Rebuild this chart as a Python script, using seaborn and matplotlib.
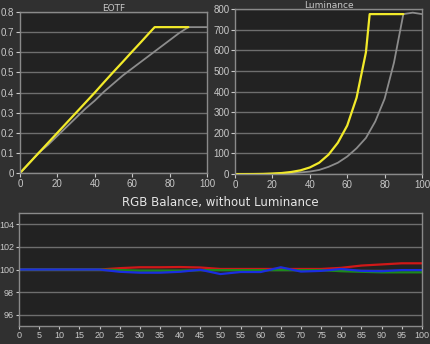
import matplotlib
matplotlib.use("Agg")
import matplotlib.pyplot as plt
import seaborn as sns
import pandas as pd

# ---- data ----
eotf_target_x = [0, 5, 10, 15, 20, 25, 30, 35, 40, 45, 50, 55, 60, 65, 70, 75, 80, 85, 90, 95, 100]
eotf_target_y = [0, 0.05, 0.1, 0.14, 0.185, 0.23, 0.275, 0.32, 0.36, 0.405, 0.445, 0.485, 0.52,
                 0.555, 0.59, 0.625, 0.66, 0.695, 0.725, 0.725, 0.725]
eotf_meas_x = [0, 5, 10, 15, 20, 25, 30, 35, 40, 45, 50, 55, 60, 65, 70, 72, 80, 90]
eotf_meas_y = [0, 0.05, 0.1, 0.15, 0.2, 0.25, 0.3, 0.35, 0.4, 0.452, 0.503, 0.553, 0.604,
               0.654, 0.705, 0.725, 0.725, 0.725]

lum_target_x = [0, 10, 20, 30, 40, 45, 50, 55, 60, 65, 70, 75, 80, 85, 90, 95, 100]
lum_target_y = [0, 0.2, 1, 4, 12, 20, 35, 55, 85, 125, 175, 255, 365, 540, 775, 782, 775]
lum_meas_x = [0, 5, 10, 15, 20, 25, 30, 35, 40, 45, 50, 55, 60, 65, 70, 72, 80, 90]
lum_meas_y = [0, 0.1, 0.3, 0.9, 2.6, 5, 10, 18, 32, 55, 94, 152, 235, 370, 590, 775, 775, 775]

rgb_x = [0, 5, 10, 15, 20, 25, 30, 35, 40, 45, 50, 55, 60, 65, 70, 75, 80, 85, 90, 95, 100]
red = [100, 100, 100, 100, 100, 100.12, 100.2, 100.2, 100.22, 100.18, 100.05, 100.05, 100.05,
       100.05, 100.05, 100.05, 100.15, 100.35, 100.45, 100.55, 100.55]
green = [100, 100, 100, 100, 100, 99.95, 99.9, 99.9, 99.9, 99.95, 99.95, 99.95, 99.95,
         99.95, 99.95, 99.95, 99.85, 99.8, 99.75, 99.75, 99.75]
blue = [100, 100, 100, 100, 100, 99.8, 99.72, 99.72, 99.8, 99.98, 99.6, 99.78, 99.78,
        100.2, 99.82, 99.88, 100.05, 99.88, 99.85, 99.95, 99.95]

# ---- style ----
FIG_BG = "#303030"
AX_BG = "#222222"
GRID = "#6e6e6e"
SPINE = "#8a8a8a"
TXT = "#c8c8c8"

sns.set_theme(style="dark")
plt.rcParams["font.family"] = ["Liberation Sans", "DejaVu Sans"]

fig = plt.figure(figsize=(4.3, 3.44), dpi=100, facecolor=FIG_BG)
ax1 = fig.add_axes([0.0465, 0.497, 0.435, 0.468])
ax2 = fig.add_axes([0.5465, 0.494, 0.435, 0.480])
ax3 = fig.add_axes([0.044, 0.052, 0.937, 0.329])


def style(ax, title, tsize=7, tcolor=TXT, pad=1, lsize=7, tlen=3):
    ax.set_facecolor(AX_BG)
    for s in ax.spines.values():
        s.set_color(SPINE)
        s.set_linewidth(1.0)
        s.set_visible(True)
    ax.yaxis.grid(True, color=GRID, linewidth=1.0)
    ax.xaxis.grid(False)
    ax.tick_params(axis="both", colors=TXT, labelsize=lsize, length=tlen, width=0.8,
                   direction="out", pad=1, bottom=True, left=True)
    ax.set_title(title, color=tcolor, fontsize=tsize, pad=pad,
                 family=["DejaVu Sans"])
    ax.set_xlabel("")
    ax.set_ylabel("")


YEL = "#f2ea2a"
GRY = "#8c8c8c"

sns.lineplot(x=eotf_target_x, y=eotf_target_y, ax=ax1, color=GRY, linewidth=1.3)
sns.lineplot(x=eotf_meas_x, y=eotf_meas_y, ax=ax1, color=YEL, linewidth=1.6)
ax1.set_xlim(0, 100)
ax1.set_ylim(0, 0.8)
ax1.set_xticks(range(0, 101, 20))
ax1.set_yticks([0, 0.1, 0.2, 0.3, 0.4, 0.5, 0.6, 0.7, 0.8])
ax1.set_yticklabels(["0", "0.1", "0.2", "0.3", "0.4", "0.5", "0.6", "0.7", "0.8"])
style(ax1, "EOTF", tsize=6.5)

sns.lineplot(x=lum_target_x, y=lum_target_y, ax=ax2, color=GRY, linewidth=1.3)
sns.lineplot(x=lum_meas_x, y=lum_meas_y, ax=ax2, color=YEL, linewidth=1.6)
ax2.set_xlim(0, 100)
ax2.set_ylim(0, 800)
ax2.set_xticks(range(0, 101, 20))
ax2.set_yticks(range(0, 801, 100))
style(ax2, "Luminance", tsize=6.5, pad=0.5)

df = pd.DataFrame({"x": rgb_x * 3,
                   "v": red + green + blue,
                   "c": ["R"] * len(rgb_x) + ["G"] * len(rgb_x) + ["B"] * len(rgb_x)})
sns.lineplot(data=df, x="x", y="v", hue="c", ax=ax3,
             palette={"R": "#d01818", "G": "#1c8a1c", "B": "#1a2ee0"},
             linewidth=1.6, legend=False)
ax3.set_xlim(0, 100)
ax3.set_ylim(95, 105)
ax3.set_xticks(range(0, 101, 5))
ax3.set_yticks([96, 98, 100, 102, 104])
style(ax3, "RGB Balance, without Luminance", tsize=8.5, tcolor="#e6e6e6", pad=5,
      lsize=6.5, tlen=2.5)

fig.savefig("out.png", dpi=100, facecolor=FIG_BG)
